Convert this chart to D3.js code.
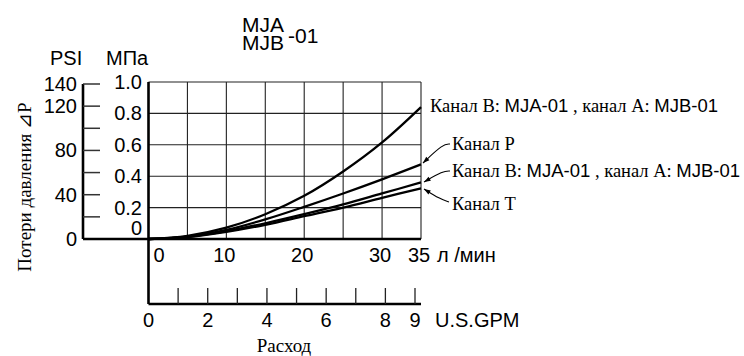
<!DOCTYPE html>
<html>
<head>
<meta charset="utf-8">
<script src="https://cdn.jsdelivr.net/npm/d3@7"></script>
<style>
  body { margin: 0; background: #fff; }
  .sans { font-family: "Liberation Sans", Arial, sans-serif; }
  .serif { font-family: "Liberation Serif", "Times New Roman", serif; }
</style>
</head>
<body>
<div id="chart"></div>
<script>
// Flow (L/min) sample points
const flow = [0, 5, 10, 15, 20, 25, 30, 35];
// Pressure drop (MPa) per channel
const chanB1 = [0, 0.02, 0.072, 0.158, 0.275, 0.43, 0.615, 0.84];
const chanP = [0, 0.015, 0.058, 0.125, 0.205, 0.29, 0.38, 0.475];
const chanB2 = [0, 0.014, 0.05, 0.1, 0.158, 0.22, 0.29, 0.36];
const chanT = [0, 0.012, 0.045, 0.09, 0.145, 0.2, 0.262, 0.323];

// Tick labels
const mpaTicks = [0, 0.2, 0.4, 0.6, 0.8, 1.0];
const psiTicks = [0, 20, 40, 60, 80, 100, 120, 140];
const psiLabels = [0, 40, 80, 120, 140];
const lpmGrid = [0, 5, 10, 15, 20, 25, 30, 35];
const lpmLabels = [0, 10, 20, 30, 35];
const gpmTicks = [1, 2, 3, 4, 5, 6, 7, 8, 9];
const gpmLabels = [0, 2, 4, 6, 8, 9];

const width = 744, height = 356;

const svg = d3.select("#chart").append("svg")
  .attr("width", width).attr("height", height);

// scales
const x = d3.scaleLinear().domain([0, 35]).range([148.5, 421]);
const y = d3.scaleLinear().domain([0, 1]).range([239, 82]);
const yPsi = d3.scaleLinear().domain([0, 140]).range([239, 84]);
const xGpm = d3.scaleLinear().domain([0, 9]).range([148.5, 415]);

const gpmY = 304;
const psiX = 83;

// 1) grid
const grid = svg.append("g").attr("stroke", "#222").attr("stroke-width", 1.1);
grid.selectAll("line.v").data(lpmGrid.slice(1)).enter().append("line")
  .attr("x1", d => x(d)).attr("x2", d => x(d))
  .attr("y1", y(1)).attr("y2", y(0));
grid.selectAll("line.h").data(mpaTicks.slice(1)).enter().append("line")
  .attr("x1", x(0)).attr("x2", x(35))
  .attr("y1", d => y(d)).attr("y2", d => y(d));

// 2) thick axes
const axes = svg.append("g").attr("stroke", "#000").attr("stroke-width", 2.6).attr("fill", "none");
axes.append("line").attr("x1", psiX).attr("x2", x(35)).attr("y1", y(0)).attr("y2", y(0));
axes.append("line").attr("x1", psiX).attr("x2", psiX).attr("y1", yPsi(140)).attr("y2", y(0));
axes.append("line").attr("x1", x(0)).attr("x2", x(0)).attr("y1", y(1)).attr("y2", gpmY);
axes.append("line").attr("x1", x(0)).attr("x2", x(35)).attr("y1", gpmY).attr("y2", gpmY);

// PSI ticks
svg.append("g").attr("stroke", "#333").attr("stroke-width", 1.5)
  .selectAll("line").data(psiTicks.slice(1)).enter().append("line")
  .attr("x1", psiX).attr("x2", psiX + 17)
  .attr("y1", d => yPsi(d)).attr("y2", d => yPsi(d));

// GPM ticks
svg.append("g").attr("stroke", "#222").attr("stroke-width", 1.3)
  .selectAll("line").data(gpmTicks).enter().append("line")
  .attr("x1", d => xGpm(d)).attr("x2", d => xGpm(d))
  .attr("y1", gpmY).attr("y2", gpmY - 16);

// 3) curves
const series = [chanB1, chanP, chanB2, chanT];
const line = d3.line()
  .x((d, i) => x(flow[i]))
  .y(d => y(d))
  .curve(d3.curveCatmullRom.alpha(0.5));
svg.append("g").selectAll("path").data(series).enter().append("path")
  .attr("d", line)
  .attr("fill", "none")
  .attr("stroke", "#000")
  .attr("stroke-width", 2.3);

// 4) tick labels
const fs = 20;
const lab = svg.append("g").attr("class", "sans").attr("font-size", fs).attr("fill", "#000");

lab.selectAll("text.psi").data(psiLabels).enter().append("text")
  .attr("x", 77).attr("y", d => yPsi(d) + 7)
  .attr("text-anchor", "end")
  .text(d => d);

lab.selectAll("text.mpa").data(mpaTicks).enter().append("text")
  .attr("x", 142).attr("y", d => (d === 0 ? y(d) - 4 : y(d) + 7))
  .attr("text-anchor", "end")
  .text(d => (d === 0 ? "0" : d.toFixed(1)));

lab.selectAll("text.lpm").data(lpmLabels).enter().append("text")
  .attr("x", d => (d === 0 ? x(d) + 5 : x(d) - 2))
  .attr("y", 262)
  .attr("text-anchor", d => (d === 0 ? "start" : "middle"))
  .text(d => d);
lab.append("text").attr("x", 437).attr("y", 262).text("л /мин");

lab.selectAll("text.gpm").data(gpmLabels).enter().append("text")
  .attr("x", d => xGpm(d)).attr("y", 327)
  .attr("text-anchor", "middle")
  .text(d => d);
lab.append("text").attr("x", 435).attr("y", 327).text("U.S.GPM");

lab.append("text").attr("x", 50).attr("y", 65).text("PSI");
lab.append("text").attr("x", 106).attr("y", 65).text("МПа");

// 5) title
const title = svg.append("g").attr("class", "sans").attr("font-size", 21);
title.append("text").attr("x", 242).attr("y", 32).text("MJA");
title.append("text").attr("x", 242).attr("y", 50).text("MJB");
title.append("text").attr("x", 288).attr("y", 43).text("-01");

// 6) axis titles
svg.append("text").attr("class", "serif").attr("font-size", 19)
  .attr("transform", "translate(31,187) rotate(-90)")
  .attr("text-anchor", "middle")
  .text("Потери давления ⊿P");
svg.append("text").attr("class", "serif").attr("font-size", 19)
  .attr("x", 284).attr("y", 352).attr("text-anchor", "middle")
  .text("Расход");

// 7) channel labels
function channelLabel(xx, yy, parts) {
  const t = svg.append("text").attr("x", xx).attr("y", yy).attr("font-size", 18.5);
  parts.forEach(p => {
    t.append("tspan").attr("class", p[1] ? "sans" : "serif").text(p[0]);
  });
}
const bLabel = [["Канал B: ", false], ["MJA-01", true], [" , канал A: ", false], ["MJB-01", true]];
channelLabel(430, 112, bLabel);
channelLabel(452, 150, [["Канал P", false]]);
channelLabel(452, 177, bLabel);
channelLabel(452, 210, [["Канал T", false]]);

// 8) leader arrows
svg.append("defs").append("marker")
  .attr("id", "arr").attr("viewBox", "0 0 10 10")
  .attr("refX", 10).attr("refY", 5)
  .attr("markerWidth", 7).attr("markerHeight", 6)
  .attr("orient", "auto")
  .append("path").attr("d", "M0,1.5 L10,5 L0,8.5 Z").attr("fill", "#000");

const leaders = [
  [[450, 144], [443, 144], [423, 163]],
  [[450, 171], [443, 171], [424, 182]],
  [[449, 202], [440, 199], [424, 189]]
];
svg.append("g").selectAll("path").data(leaders).enter().append("path")
  .attr("d", d => d3.line().curve(d3.curveBasis)(d))
  .attr("fill", "none").attr("stroke", "#000").attr("stroke-width", 1.1)
  .attr("marker-end", "url(#arr)");
</script>
</body>
</html>
